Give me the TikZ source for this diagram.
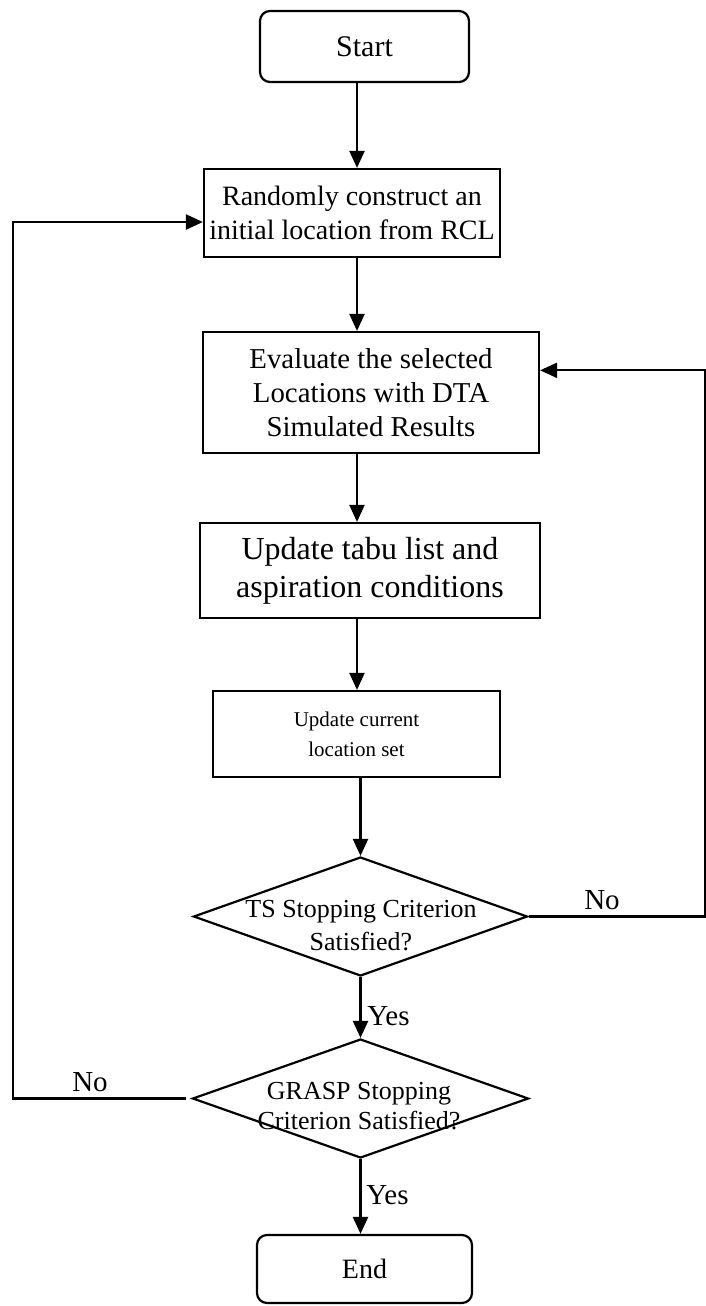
\documentclass[tikz,border=0pt]{standalone}
\usepackage{fontspec}
\setmainfont{Liberation Serif}
\usetikzlibrary{shapes.geometric,arrows.meta,calc}
\begin{document}
\begin{tikzpicture}[x=0.5pt,y=-0.5pt,
  every node/.style={inner sep=0pt},
  procbox/.style={draw, rectangle, line width=1.1pt, align=center},
  termbox/.style={procbox, rounded corners=5pt},
  decision/.style={draw, diamond, line width=1.1pt},
  flow/.style={line width=1.1pt, -{Triangle[length=8.5pt,width=7.5pt]}},
  lbl/.style={font=\fontsize{14.5}{17}\selectfont},
  txt/.style={align=center, font=\fontsize{14}{17}\selectfont}]
\useasboundingbox (0,0) rectangle (706,1306);

% process steps
\node[termbox, txt, font=\fontsize{15}{17}\selectfont, minimum width=104.5pt, minimum height=35.5pt] (start) at (364.5,46.5) {Start};
\node[procbox, txt, minimum width=148pt, minimum height=44pt] (b2) at (352,213)
  {Randomly construct an\\initial location from RCL};
\node[procbox, txt, font=\fontsize{14.4}{17}\selectfont, minimum width=168pt, minimum height=60.5pt] (b3) at (371,392.5)
  {Evaluate the selected\\Locations with DTA\\Simulated Results};
\node[procbox, txt, font=\fontsize{16}{19}\selectfont, minimum width=170pt, minimum height=47.5pt] (b4) at (370,570.5)
  {Update tabu list and\\aspiration conditions};
\node[procbox, txt, font=\fontsize{10.5}{15}\selectfont, minimum width=143.5pt, minimum height=43pt] (b5) at (356.5,734)
  {Update current\\location set};

% decisions
\node[decision, minimum width=167pt, minimum height=59.5pt] (d1) at (360.5,916.5) {};
\node[txt, font=\fontsize{13}{16.5}\selectfont] (t1) at (361,926) {TS Stopping Criterion\\Satisfied?};
\node[decision, minimum width=168pt, minimum height=59.5pt] (d2) at (360.5,1098.5) {};
\node[txt, font=\fontsize{13}{15}\selectfont] (t2) at (359,1106) {GRASP Stopping\\Criterion Satisfied?};

\node[termbox, txt, minimum width=107.5pt, minimum height=34pt] (end) at (364.5,1269) {End};

% guide lines for the vertical spine and the two return paths
\coordinate (sp) at (357,0);
\coordinate (rt) at (705,0);
\coordinate (lf) at (13,0);

\draw[flow] (start.south -| sp) -- (b2.north -| sp);
\draw[flow] (b2.south -| sp) -- (b3.north -| sp);
\draw[flow] (b3.south -| sp) -- (b4.north -| sp);
\draw[flow] (b4.south -| sp) -- (b5.north -| sp);
\draw[flow] (b5.south -| d1.north) -- (d1.north);
\draw[flow] (d1.south) -- (d2.north);
\draw[flow] (d2.south) -- (d2.south |- end.north);

\draw[flow] (d1.east) -- (d1.east -| rt) |- ($(b3.north east)!0.32!(b3.south east)$);
\draw[flow, shorten <=2.5pt] (d2.west) -- (d2.west -| lf) |- ($(b2.north west)!0.6!(b2.south west)$);

% branch labels
\node[lbl] (no1) at (602,900) {No};
\node[lbl] (no2) at (90,1082) {No};
\node[lbl, anchor=west] (yes1) at (367,1016) {Yes};
\node[lbl, anchor=west] (yes2) at (366,1195) {Yes};
\end{tikzpicture}
\end{document}
